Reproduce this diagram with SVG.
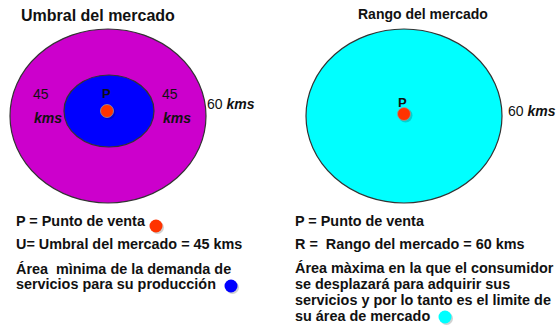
<svg xmlns="http://www.w3.org/2000/svg" width="557" height="328" viewBox="0 0 557 328">
<defs>
<style>
text{font-family:"Liberation Sans",Arial,sans-serif;fill:#111;}
.t{font-weight:bold;}
.b{font-weight:bold;font-size:14.4px;}
.n{font-size:14px;}
.bi{font-weight:bold;font-style:italic;font-size:14px;}
.ring{stroke:#333;stroke-width:1.2;}
.dot{stroke:#999;stroke-width:0.8;}
.sh{fill:#000;opacity:0.18;}
</style>
</defs>
<rect width="557" height="328" fill="#fff"/>
<g id="umbral">
<text class="t" x="21" y="21" font-size="16">Umbral del mercado</text>
<ellipse class="ring" cx="108" cy="116" rx="98" ry="87" fill="#CC00CC"/>
<ellipse class="ring" cx="109" cy="111" rx="45" ry="36" fill="#0000FF"/>
<circle class="sh" cx="108.5" cy="112.5" r="7"/>
<circle class="dot" cx="107" cy="111" r="6.5" fill="#FF3300"/>
<text class="t" x="102" y="98" font-size="13">P</text>
<text class="n" x="33" y="99">45</text>
<text class="bi" x="34" y="123">kms</text>
<text class="n" x="162" y="99">45</text>
<text class="bi" x="163" y="123">kms</text>
<text x="207" y="109" class="n">60 <tspan class="bi">kms</tspan></text>
</g>
<g id="rango">
<text class="t" x="358" y="19" font-size="14">Rango del mercado</text>
<ellipse class="ring" cx="404" cy="116" rx="98" ry="87" fill="#00FFFF"/>
<circle class="sh" cx="405.5" cy="115.5" r="7"/>
<circle class="dot" cx="404" cy="114" r="6.5" fill="#FF3300"/>
<text class="t" x="398" y="107" font-size="13">P</text>
<text x="508" y="116" class="n">60 <tspan class="bi">kms</tspan></text>
</g>
<g id="legend-left">
<text class="b" x="16" y="226">P = Punto de venta</text>
<circle class="sh" cx="157.5" cy="227.5" r="6.5"/>
<circle cx="156" cy="226" r="6.5" fill="#FF3300"/>
<text class="b" x="16" y="249">U= Umbral del mercado = 45 kms</text>
<text class="b" x="16" y="274" xml:space="preserve">Área  mìnima de la demanda de</text>
<text class="b" x="16" y="289">servicios para su producción</text>
<circle class="sh" cx="232.5" cy="287.5" r="6.5"/>
<circle cx="231" cy="286" r="6.5" fill="#0000FF"/>
</g>
<g id="legend-right">
<text class="b" x="295" y="226">P = Punto de venta</text>
<text class="b" x="295" y="249" xml:space="preserve">R =  Rango del mercado = 60 kms</text>
<text class="b" x="295" y="273">Área màxima en la que el consumidor</text>
<text class="b" x="295" y="289">se desplazará para adquirir sus</text>
<text class="b" x="295" y="305">servicios y por lo tanto es el limite de</text>
<text class="b" x="295" y="321">su área de mercado</text>
<circle class="sh" cx="446.5" cy="318.5" r="6.5"/>
<circle cx="445" cy="317" r="6.5" fill="#00FFFF"/>
</g>
</svg>
